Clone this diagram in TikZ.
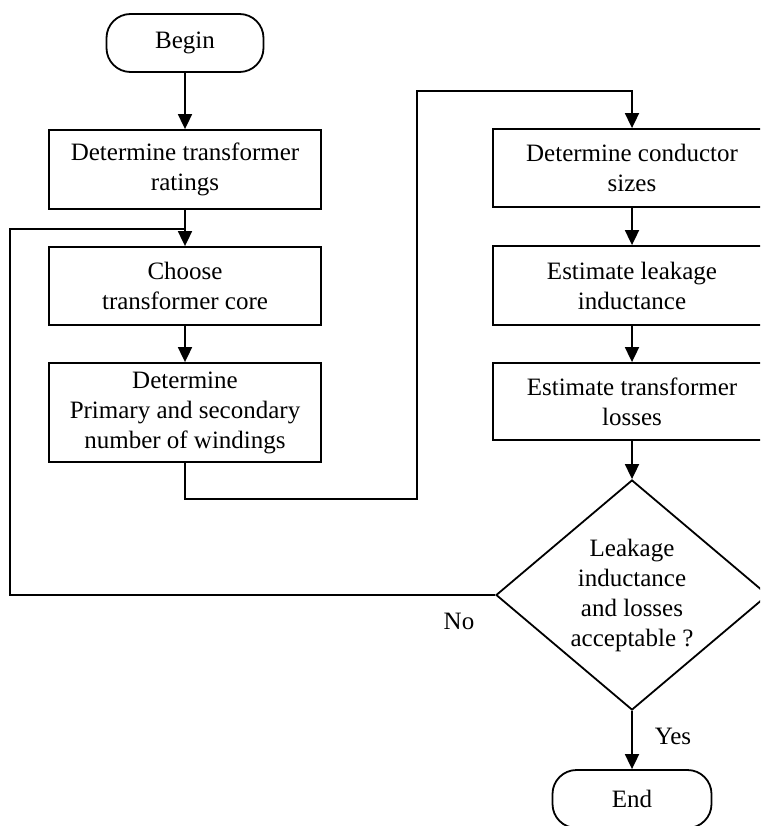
\documentclass[tikz,border=0pt]{standalone}
\usepackage{fontspec}
\setmainfont{Liberation Serif}
\usetikzlibrary{shapes.geometric,arrows.meta}

\begin{document}
\begin{tikzpicture}[x=1pt,y=-1pt,line width=1.8pt,
    every node/.style={font=\fontsize{25}{30}\selectfont},
    terminal/.style={draw,rectangle,rounded corners=24pt,minimum width=157pt,minimum height=58pt},
    stepbox/.style={draw,rectangle,align=center,inner sep=0pt,minimum width=272pt},
    decision/.style={draw,diamond,align=center,inner sep=0pt,aspect=1.18,minimum width=272pt,minimum height=230pt},
    flow/.style={-{Triangle[length=15pt,width=14pt]}}]
  \useasboundingbox (0,0) rectangle (760,826);
  \clip (0,0) rectangle (760,826);

  % left column
  \node[terminal] (begin) at (185,43) {Begin};
  \node[stepbox,minimum height=79pt] (ratings) at (185,169.5) {Determine transformer\\ ratings};
  \node[stepbox,minimum height=78pt] (core) at (185,286) {Choose\\ transformer core};
  \node[stepbox,minimum height=99pt] (windings) at (185,412.5) {Determine\\ Primary and secondary\\ number of windings};

  % right column
  \node[stepbox,minimum width=278pt,minimum height=78pt] (conductor) at (632,168) {Determine conductor\\ sizes};
  \node[stepbox,minimum width=278pt,minimum height=79pt] (leakage) at (632,285.5) {Estimate leakage\\ inductance};
  \node[stepbox,minimum width=278pt,minimum height=77pt] (losses) at (632,401.5) {Estimate transformer\\ losses};
  \node[decision] (check) at (632,595) {Leakage\\ inductance\\ and losses\\ acceptable ?};
  \node[terminal,minimum width=159pt] (end) at (632,799) {End};

  % branch labels
  \node (no) at (459,621) {No};
  \node (yes) at (673,736) {Yes};

  % bends of the long connectors
  \coordinate (jog) at (417,499);
  \coordinate (over) at (417,91);
  \coordinate (back) at (10,229);

  \draw[flow] (begin) -- (ratings);
  \draw[flow] (ratings) -- (core);
  \draw[flow] (core) -- (windings);
  \draw[flow] (windings.south) |- (jog) -- (over) -| (conductor.north);
  \draw[flow] (conductor) -- (leakage);
  \draw[flow] (leakage) -- (losses);
  \draw[flow] (losses) -- (check);
  \draw[flow] (check) -- (end);

  % loop back when the check fails
  \draw (check.west) -| (back) -- (back -| core.north);
\end{tikzpicture}
\end{document}
